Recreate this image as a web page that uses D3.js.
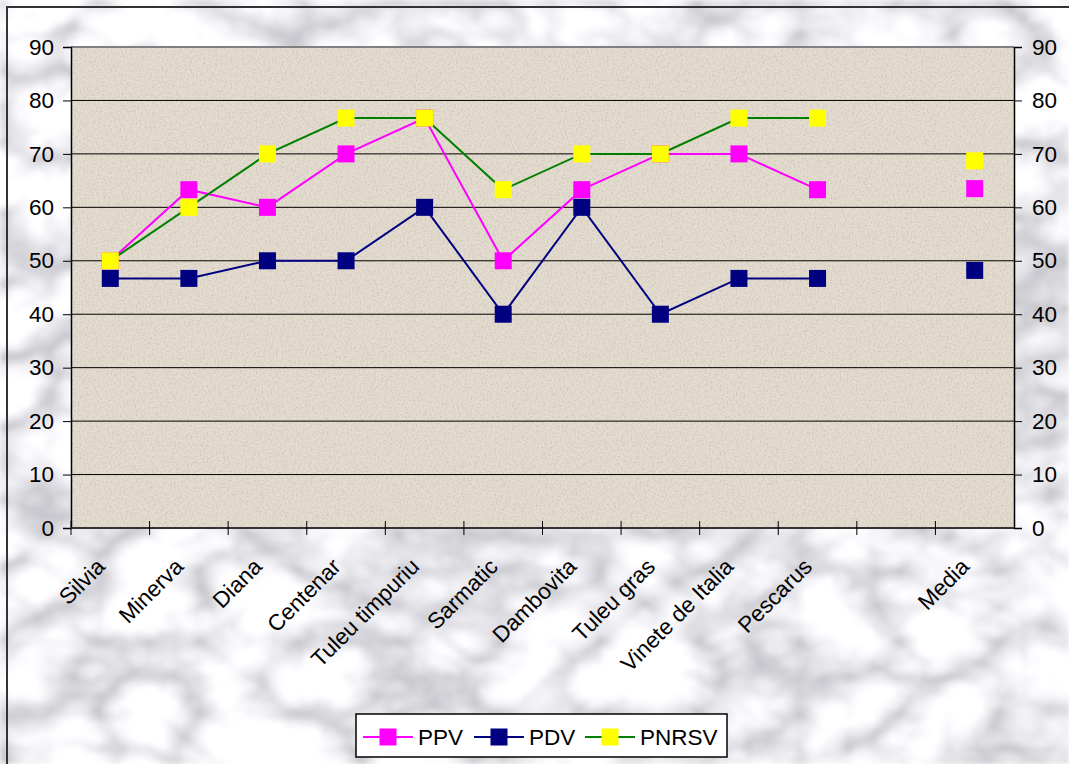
<!DOCTYPE html>
<html>
<head>
<meta charset="utf-8">
<script src="https://cdn.jsdelivr.net/npm/d3@7"></script>
<style>
  body { margin: 0; background: #fff; }
  text { font-family: "Liberation Sans", Arial, sans-serif; fill: #000; }
</style>
</head>
<body>
<svg id="chart"></svg>
<script>
// categories (one empty slot before Media, as in the original sheet)
const categories = ["Silvia", "Minerva", "Diana", "Centenar", "Tuleu timpuriu", "Sarmatic",
                    "Dambovita", "Tuleu gras", "Vinete de Italia", "Pescarus", "", "Media"];
const ppv   = [50, 63.3, 60, 70, 76.7, 50, 63.3, 70, 70, 63.3, null, 63.5];
const pdv   = [46.7, 46.7, 50, 50, 60, 40, 60, 40, 46.7, 46.7, null, 48.2];
const pnrsv = [50, 60, 70, 76.7, 76.7, 63.3, 70, 70, 76.7, 76.7, null, 68.7];
const yTicks = [0, 10, 20, 30, 40, 50, 60, 70, 80, 90];

const series = [
  { name: "PPV",   values: ppv,   line: "#ff00ff", marker: "#ff00ff" },
  { name: "PDV",   values: pdv,   line: "#000080", marker: "#000080" },
  { name: "PNRSV", values: pnrsv, line: "#008000", marker: "#ffff00" }
];

const width = 1069, height = 764;
const plot = { left: 71, right: 1014, top: 47, bottom: 528 };
const fontSize = 22.5;

const svg = d3.select("#chart")
  .attr("width", width)
  .attr("height", height)
  .attr("viewBox", [0, 0, width, height]);

// --- filters for marble + paper texture ---
const defs = svg.append("defs");

const marble = defs.append("filter").attr("id", "marble")
  .attr("x", 0).attr("y", 0).attr("width", 1).attr("height", 1);
marble.append("feTurbulence")
  .attr("type", "turbulence")
  .attr("baseFrequency", "0.010 0.014")
  .attr("numOctaves", 4)
  .attr("seed", 11)
  .attr("result", "t");
marble.append("feColorMatrix")
  .attr("in", "t")
  .attr("type", "matrix")
  .attr("values", "1.0 0 0 0 0.52  1.0 0 0 0 0.52  1.0 0 0 0 0.56  0 0 0 0 1")
  .attr("result", "m");
marble.append("feGaussianBlur").attr("in", "m").attr("stdDeviation", 2.5);

const paper = defs.append("filter").attr("id", "paper")
  .attr("x", 0).attr("y", 0).attr("width", 1).attr("height", 1);
paper.append("feTurbulence")
  .attr("type", "fractalNoise")
  .attr("baseFrequency", 0.55)
  .attr("numOctaves", 2)
  .attr("seed", 3)
  .attr("result", "n");
paper.append("feColorMatrix")
  .attr("in", "n")
  .attr("type", "matrix")
  .attr("values", "0 0 0 0 0.55  0 0 0 0 0.5  0 0 0 0 0.44  -1.6 0 0 0 0.9")
  .attr("result", "dots");
paper.append("feComposite").attr("in", "dots").attr("in2", "SourceGraphic").attr("operator", "in");

// chart area background (marble)
svg.append("rect")
  .attr("x", 0).attr("y", 0).attr("width", width).attr("height", height)
  .attr("fill", "#e0e0e4")
  .attr("filter", "url(#marble)");

// outer frame (only top and left visible)
svg.append("path")
  .attr("d", `M7,${height} V7 H${width}`)
  .attr("fill", "none")
  .attr("stroke", "#333")
  .attr("stroke-width", 2);

// --- scales ---
const x = d3.scaleBand().domain(categories).range([plot.left, plot.right]);
const y = d3.scaleLinear().domain([0, 90]).range([plot.bottom, plot.top]);
const cx = d => x(d) + x.bandwidth() / 2;

// plot area
svg.append("rect")
  .attr("x", plot.left).attr("y", plot.top)
  .attr("width", plot.right - plot.left).attr("height", plot.bottom - plot.top)
  .attr("fill", "#e4dccf");
svg.append("rect")
  .attr("x", plot.left).attr("y", plot.top)
  .attr("width", plot.right - plot.left).attr("height", plot.bottom - plot.top)
  .attr("fill", "#e4dccf")
  .attr("filter", "url(#paper)");

// gridlines
svg.append("g")
  .selectAll("line")
  .data(yTicks.filter(t => t > 0))
  .join("line")
  .attr("x1", plot.left).attr("x2", plot.right)
  .attr("y1", d => y(d)).attr("y2", d => y(d))
  .attr("stroke", d => d === 90 ? "#808080" : "#000")
  .attr("stroke-width", d => d === 90 ? 2 : 1);

// axes
const leftAxis = svg.append("g")
  .attr("transform", `translate(${plot.left},0)`)
  .call(d3.axisLeft(y).tickValues(yTicks).tickSize(8).tickPadding(9));
const rightAxis = svg.append("g")
  .attr("transform", `translate(${plot.right},0)`)
  .call(d3.axisRight(y).tickValues(yTicks).tickSize(8).tickPadding(10));
[leftAxis, rightAxis].forEach(g => {
  g.attr("font-size", fontSize).attr("font-family", "Liberation Sans, Arial, sans-serif");
  g.select(".domain").attr("stroke", "#000").attr("stroke-width", 1.5);
  g.selectAll(".tick line").attr("stroke", "#000");
  g.selectAll(".tick text").attr("fill", "#000");
});

// x axis: baseline + crossing ticks on band boundaries
const xg = svg.append("g");
xg.append("line")
  .attr("x1", plot.left).attr("x2", plot.right)
  .attr("y1", plot.bottom).attr("y2", plot.bottom)
  .attr("stroke", "#333").attr("stroke-width", 2);
xg.selectAll("line.tk")
  .data(categories)
  .join("line")
  .attr("class", "tk")
  .attr("x1", d => x(d)).attr("x2", d => x(d))
  .attr("y1", plot.bottom - 7).attr("y2", plot.bottom + 7)
  .attr("stroke", "#000");

xg.selectAll("text")
  .data(categories.filter(c => c !== ""))
  .join("text")
  .attr("transform", d => `translate(${cx(d) - 4},${plot.bottom + 40}) rotate(-45)`)
  .attr("text-anchor", "end")
  .attr("font-size", fontSize)
  .text(d => d);

// --- series ---
const line = d3.line()
  .defined(d => d.v !== null)
  .x(d => cx(d.c))
  .y(d => y(d.v));

const msize = 17;
series.forEach(s => {
  const pts = s.values.map((v, i) => ({ c: categories[i], v }));
  // connect the first ten varieties only; Media stands apart
  const linked = pts.slice(0, 10);
  svg.append("path")
    .datum(linked)
    .attr("d", line)
    .attr("fill", "none")
    .attr("stroke", s.line)
    .attr("stroke-width", 2);
  svg.append("g")
    .selectAll("rect")
    .data(pts.filter(d => d.v !== null))
    .join("rect")
    .attr("x", d => cx(d.c) - msize / 2)
    .attr("y", d => y(d.v) - msize / 2)
    .attr("width", msize).attr("height", msize)
    .attr("fill", s.marker);
});

// --- legend ---
const legend = svg.append("g").attr("transform", "translate(356,714)");
legend.append("rect")
  .attr("width", 371).attr("height", 43)
  .attr("fill", "#fff")
  .attr("stroke", "#000").attr("stroke-width", 1.5);
const itemX = [7, 118, 229];
const items = legend.selectAll("g.item")
  .data(series)
  .join("g")
  .attr("class", "item")
  .attr("transform", (d, i) => `translate(${itemX[i]},23)`);
items.append("line")
  .attr("x1", 0).attr("x2", 50)
  .attr("stroke", d => d.line).attr("stroke-width", 2);
items.append("rect")
  .attr("x", 25 - msize / 2).attr("y", -msize / 2)
  .attr("width", msize).attr("height", msize)
  .attr("fill", d => d.marker);
items.append("text")
  .attr("x", 55).attr("dy", "0.36em")
  .attr("font-size", fontSize)
  .text(d => d.name);
</script>
</body>
</html>
